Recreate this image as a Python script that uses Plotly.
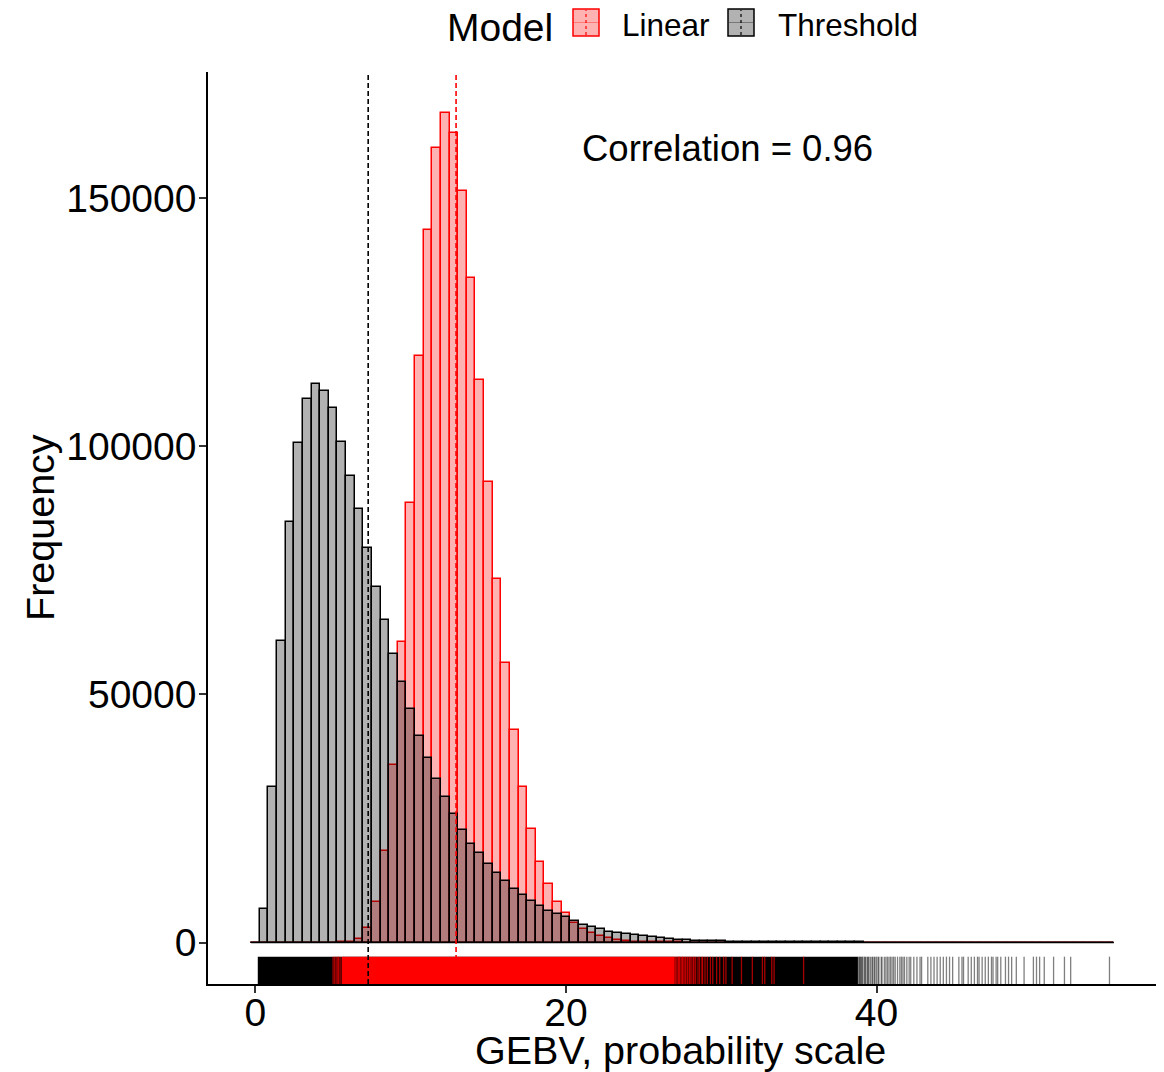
import numpy as np
import plotly.graph_objects as go

# ---------------- data ----------------
models = ["Linear", "Threshold"]
bin_width = 0.5556          # histogram bin width (100 bins)
first_bin_center = 0.0

linear_counts = [
    0, 0, 0, 0, 0, 0, 0, 0, 0, 3,
    20, 150, 700, 3000, 8200, 18500, 35800, 60500, 88600, 118300,
    143600, 160100, 167100, 163100, 151500, 134000, 113400, 92900, 73300, 56400,
    42800, 31300, 22950, 16300, 11750, 8200, 5900, 4000, 2700, 1950,
    1300, 900, 580, 350, 210, 120, 70, 40, 22, 13,
    8, 5, 3, 2, 2, 1, 1, 1, 0, 1,
    0, 0, 0, 1, 0, 0, 0, 0, 0, 0,
    0, 0, 0, 0, 0, 0, 0, 0, 0, 0,
    0, 0, 0, 0, 0, 0, 0, 0, 0, 0,
    0, 0, 0, 0, 0, 0, 0, 0, 0, 0,
]
threshold_counts = [
    0, 6700, 31400, 60800, 84700, 100700, 109500, 112500, 111100, 107700,
    100900, 94100, 87400, 79500, 71700, 65100, 58200, 52500, 47000, 41700,
    37200, 32900, 29300, 25900, 22700, 19950, 17950, 15800, 14050, 12420,
    10750, 9650, 8320, 7300, 6450, 5800, 5050, 4370, 3600, 3050,
    2650, 2200, 1850, 1700, 1500, 1280, 1080, 880, 740, 600,
    480, 400, 340, 290, 240, 200, 170, 140, 115, 95,
    80, 65, 55, 45, 37, 30, 25, 20, 16, 13,
    11, 9, 7, 6, 5, 4, 3, 3, 2, 2,
    2, 1, 1, 1, 1, 0, 1, 1, 0, 1,
    1, 0, 1, 0, 1, 0, 0, 0, 0, 1,
]

# mean lines
linear_mean = 12.92
threshold_mean = 7.26

# rug: dense (solid) ranges and individual sparse observations
threshold_rug_dense = [0.15, 38.8]
threshold_rug_values = [
    38.85, 38.9, 38.95, 39.0, 39.05, 39.1, 39.2, 39.25, 39.3, 39.4, 39.45, 39.5,
    39.6, 39.7, 39.75, 39.85, 39.9, 40.0, 40.1, 40.15, 40.3, 40.35, 40.5, 40.6,
    40.7, 40.8, 40.9, 41.0, 41.1, 41.2, 41.35, 41.5, 41.6, 41.7, 41.8, 41.95,
    42.1, 42.2, 42.4, 42.6, 42.8, 42.9, 43.3, 43.5, 43.7, 43.9, 44.1, 44.3,
    44.5, 44.7, 44.9, 45.3, 45.5, 45.6, 45.9, 46.1, 46.3, 46.5, 46.6, 46.8,
    47.0, 47.2, 47.4, 47.5, 47.7, 47.8, 48.0, 48.3, 48.5, 48.7, 49.0, 49.5,
    50.1, 50.3, 50.5, 50.8, 51.4, 52.1, 52.5, 55.0,
]
linear_rug_dense = [5.55, 27.0]
linear_rug_values = [
    5.0, 5.1, 5.2, 5.3, 5.35, 5.45,
    27.05, 27.1, 27.2, 27.25, 27.3, 27.35, 27.45, 27.5, 27.55, 27.65, 27.7,
    27.8, 27.85, 27.95, 28.0, 28.1, 28.2, 28.25, 28.35, 28.5, 28.6, 28.75,
    28.8, 28.95, 29.1, 29.3, 29.45, 29.7, 29.9, 30.15, 30.3, 30.7, 31.3,
    32.0, 32.65, 32.8, 33.25, 33.4, 35.3,
]

correlation_text = "Correlation = 0.96"
correlation_pos = (30.4, 160000)

x_ticks = [0, 20, 40]
y_ticks = [0, 50000, 100000, 150000]
x_title = "GEBV, probability scale"
y_title = "Frequency"

# ---------------- figure ----------------
FONT = "Liberation Sans, Arial, Helvetica, sans-serif"
n_bins = len(linear_counts)
centers = first_bin_center + bin_width * np.arange(n_bins)
edge_lo = centers[0] - bin_width / 2
edge_hi = centers[-1] + bin_width / 2

fig = go.Figure()

fig.add_trace(go.Bar(
    x=centers, y=linear_counts, width=bin_width, name="Linear",
    marker=dict(color="rgba(255,0,0,0.3)", line=dict(color="#FF0000", width=1.5)),
    showlegend=False,
))
fig.add_trace(go.Bar(
    x=centers, y=threshold_counts, width=bin_width, name="Threshold",
    marker=dict(color="rgba(0,0,0,0.3)", line=dict(color="#000000", width=1.5)),
    showlegend=False,
))
# baseline of the histogram (outline of empty bins)
fig.add_trace(go.Scatter(
    x=[edge_lo, edge_hi], y=[0, 0], mode="lines",
    line=dict(color="black", width=1.5), showlegend=False, hoverinfo="skip",
))

shapes = []
# rug - threshold
shapes.append(dict(type="rect", xref="x", yref="y domain",
                   x0=threshold_rug_dense[0], x1=threshold_rug_dense[1], y0=0, y1=0.03,
                   fillcolor="black", line=dict(width=0), layer="above"))
for v in threshold_rug_values:
    shapes.append(dict(type="line", xref="x", yref="y domain", x0=v, x1=v, y0=0, y1=0.03,
                       line=dict(color="rgba(0,0,0,0.5)", width=1.3), layer="above"))
# rug - linear
shapes.append(dict(type="rect", xref="x", yref="y domain",
                   x0=linear_rug_dense[0], x1=linear_rug_dense[1], y0=0, y1=0.03,
                   fillcolor="#FF0000", line=dict(width=0), layer="above"))
for v in linear_rug_values:
    shapes.append(dict(type="line", xref="x", yref="y domain", x0=v, x1=v, y0=0, y1=0.03,
                       line=dict(color="rgba(255,0,0,0.65)", width=1.3), layer="above"))
# mean lines
for m, c in [(threshold_mean, "black"), (linear_mean, "#FF0000")]:
    shapes.append(dict(type="line", xref="x", yref="y domain", x0=m, x1=m, y0=0, y1=1,
                       line=dict(color=c, width=1.6, dash="5px,3px"), layer="above"))

# manual legend (paper coords; plot area on screen x:208-1157, y:72-984 px;
# the page body adds an 8 px offset, compensated in the margins below)
W, H, L, T = 949.0, 912.0, 208.0, 72.0
def px(x):
    return (x - L) / W
def py(y):
    return (T + H - y) / H

legend_items = [
    ("Linear", "rgba(255,0,0,0.3)", "#FF0000", "rgba(255,120,120,1)", 573, 620),
    ("Threshold", "rgba(0,0,0,0.3)", "black", "#777777", 728, 776),
]
annotations = [dict(text="Model", xref="paper", yref="paper", x=px(445), y=py(28),
                    xanchor="left", yanchor="middle", showarrow=False,
                    font=dict(family=FONT, size=39, color="black"))]
for label, fill, edge, hline, kx, tx in legend_items:
    shapes.append(dict(type="rect", xref="paper", yref="paper",
                       x0=px(kx), x1=px(kx + 26), y0=py(36), y1=py(9),
                       fillcolor=fill, line=dict(color=edge, width=1.5)))
    shapes.append(dict(type="line", xref="paper", yref="paper",
                       x0=px(kx + 1), x1=px(kx + 25), y0=py(22.5), y1=py(22.5),
                       line=dict(color=hline, width=1)))
    shapes.append(dict(type="line", xref="paper", yref="paper",
                       x0=px(kx + 13), x1=px(kx + 13), y0=py(35), y1=py(10),
                       line=dict(color=edge, width=1.2, dash="3px,3px")))
    annotations.append(dict(text=label, xref="paper", yref="paper", x=px(tx), y=py(25),
                            xanchor="left", yanchor="middle", showarrow=False,
                            font=dict(family=FONT, size=31.5, color="black")))

annotations.append(dict(text=correlation_text, x=correlation_pos[0], y=correlation_pos[1],
                        xref="x", yref="y", showarrow=False, xanchor="center", yanchor="middle",
                        font=dict(family=FONT, size=36.5, color="black")))
# axis titles
annotations.append(dict(text=x_title, xref="paper", yref="paper", x=px(680), y=py(1050),
                        xanchor="center", yanchor="middle", showarrow=False,
                        font=dict(family=FONT, size=39.5, color="black")))
annotations.append(dict(text=y_title, xref="paper", yref="paper", x=px(40), y=py(528),
                        xanchor="center", yanchor="middle", showarrow=False, textangle=-90,
                        font=dict(family=FONT, size=39.5, color="black")))

ymax = max(max(linear_counts), max(threshold_counts))
xspan = edge_hi - edge_lo

fig.update_layout(
    width=1156, height=1064,
    margin=dict(l=200, r=7, t=64, b=88, autoexpand=False),
    paper_bgcolor="white", plot_bgcolor="white",
    barmode="overlay", bargap=0,
    showlegend=False,
    font=dict(family=FONT, color="black"),
    shapes=shapes,
    annotations=annotations,
    xaxis=dict(
        range=[edge_lo - 0.05 * xspan, edge_hi + 0.05 * xspan],
        tickvals=x_ticks, ticktext=[str(t) for t in x_ticks],
        showgrid=False, zeroline=False, showline=True, linecolor="black", linewidth=1.5,
        ticks="outside", ticklen=7, tickwidth=1.5, tickcolor="#333333",
        tickfont=dict(family=FONT, size=39, color="black"),
        ticklabelstandoff=-14,
        automargin=False,
    ),
    yaxis=dict(
        range=[-0.05 * ymax, 1.05 * ymax],
        tickvals=y_ticks, ticktext=[str(t) for t in y_ticks],
        showgrid=False, zeroline=False, showline=True, linecolor="black", linewidth=1.5,
        ticks="outside", ticklen=7, tickwidth=1.5, tickcolor="#333333",
        tickfont=dict(family=FONT, size=39, color="black"),
        ticklabelstandoff=-5,
        automargin=False,
    ),
)

fig.write_html("out.html")
